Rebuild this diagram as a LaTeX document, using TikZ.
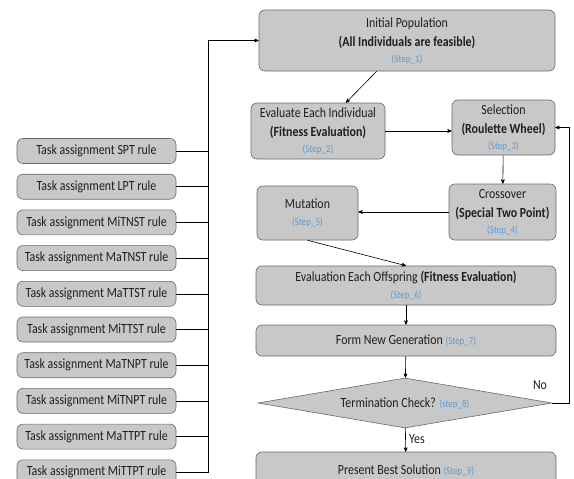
\documentclass[tikz,border=0pt]{standalone}
\usepackage{fontspec}
\setmainfont{Carlito}[FakeStretch=0.85]
\usepackage{tikz}
\usetikzlibrary{arrows,shapes}
\definecolor{boxfill}{RGB}{200,200,200}
\definecolor{boxline}{RGB}{105,105,105}
\definecolor{stepblue}{RGB}{91,155,213}
\definecolor{txtgray}{RGB}{30,30,30}
\newcommand{\stp}[1]{{\color{stepblue}\fontsize{10.5}{12}\selectfont(#1)}}

\begin{document}
\begin{tikzpicture}[x=1pt,y=-1pt,->,>=stealth',semithick,node distance=35.7pt,
                    font=\fontsize{14}{19}\selectfont,text=txtgray]
  \tikzstyle{stepbox}=[draw=boxline,fill=boxfill,rounded corners=6pt,align=center,inner sep=1pt]
  \tikzstyle{rulebox}=[stepbox,minimum width=159pt,minimum height=25pt]
  \tikzstyle{plain}=[-]

  \useasboundingbox (0,0) rectangle (574,479);
  \clip (0,0) rectangle (574,479);

  % main loop of the algorithm
  \node[stepbox,minimum width=296pt,minimum height=61pt] (init) at (407,40.5)
        {Initial Population\\\textbf{(All Individuals are feasible)}\\[-3pt]\stp{Step\_1}};
  \node[stepbox,minimum width=134pt,minimum height=56pt] (evalind) at (318,131)
        {Evaluate Each Individual\\\textbf{(Fitness Evaluation)}\\[-3pt]\stp{Step\_2}};
  \node[stepbox,minimum width=103pt,minimum height=55pt] (select) at (503.5,127.5)
        {Selection\\\textbf{(Roulette Wheel)}\\[-3pt]\stp{Step\_3}};
  \node[stepbox,minimum width=107pt,minimum height=56pt] (cross) at (502.5,212)
        {Crossover\\\textbf{(Special Two Point)}\\[-3pt]\stp{Step\_4}};
  \node[stepbox,minimum width=101pt,minimum height=54pt] (mutate) at (307.5,213)
        {Mutation\\[-2pt]\stp{Step\_5}};
  \node[stepbox,minimum width=300pt,minimum height=39pt] (offspring) at (406,285.5)
        {Evaluation Each Offspring \textbf{(Fitness Evaluation)}\\[-2pt]\stp{Step\_6}};
  \node[stepbox,minimum width=300pt,minimum height=31pt] (formgen) at (406,340.5)
        {Form New Generation \stp{Step\_7}};
  \node[draw=boxline,fill=boxfill,diamond,aspect=5.9,minimum width=294pt,
        minimum height=50pt,inner sep=0pt] (check) at (405,403)
        {Termination Check? \stp{step\_8}};
  \node[stepbox,minimum width=300pt,minimum height=36pt] (best) at (406,470)
        {Present Best Solution \stp{Step\_9}};

  % dispatching rules
  \node[rulebox] (spt) at (96.5,151) {Task assignment SPT rule};
  \node[rulebox] (lpt)    [below of=spt]    {Task assignment LPT rule};
  \node[rulebox] (mitnst) [below of=lpt]    {Task assignment MiTNST rule};
  \node[rulebox] (matnst) [below of=mitnst] {Task assignment MaTNST rule};
  \node[rulebox] (mattst) [below of=matnst] {Task assignment MaTTST rule};
  \node[rulebox] (mittst) [below of=mattst] {Task assignment MiTTST rule};
  \node[rulebox] (matnpt) [below of=mittst] {Task assignment MaTNPT rule};
  \node[rulebox] (mitnpt) [below of=matnpt] {Task assignment MiTNPT rule};
  \node[rulebox] (mattpt) [below of=mitnpt] {Task assignment MaTTPT rule};
  \node[rulebox] (mittpt) [below of=mattpt] {Task assignment MiTTPT rule};

  \coordinate (bustop) at (208,40.5);
  \coordinate (turn) at (569,403);

  \draw[plain] (mittpt.east) -- (mittpt.east -| bustop) -- (bustop);
  \draw (bustop) -- (init.west);
  \draw[plain] (spt.east)    -- (spt.east -| bustop);
  \draw[plain] (lpt.east)    -- (lpt.east -| bustop);
  \draw[plain] (mitnst.east) -- (mitnst.east -| bustop);
  \draw[plain] (matnst.east) -- (matnst.east -| bustop);
  \draw[plain] (mattst.east) -- (mattst.east -| bustop);
  \draw[plain] (mittst.east) -- (mittst.east -| bustop);
  \draw[plain] (matnpt.east) -- (matnpt.east -| bustop);
  \draw[plain] (mitnpt.east) -- (mitnpt.east -| bustop);
  \draw[plain] (mattpt.east) -- (mattpt.east -| bustop);

  \path (init)      edge (evalind)
        (evalind.east) edge (evalind.east -| select.west)
        (select)    edge (cross)
        (cross.west) edge (cross.west -| mutate.east)
        (mutate.south) edge (offspring.north)
        (offspring) edge (formgen)
        (formgen)   edge (check)
        (check)     edge node[right,pos=0.45] {Yes} (best);
  \draw (check.east) -- (turn) |- (select.east);
  \node (no) at (540,385) {No};
\end{tikzpicture}
\end{document}
